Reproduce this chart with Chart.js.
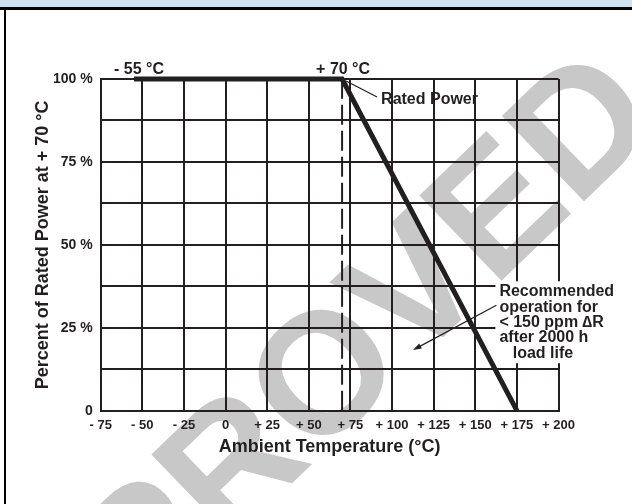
<!DOCTYPE html>
<html>
<head>
<meta charset="utf-8">
<title>Power derating curve</title>
<script src="https://cdn.jsdelivr.net/npm/chart.js@4.4.1/dist/chart.umd.min.js"></script>
<style>
  html, body { margin: 0; padding: 0; background: #fff; overflow: hidden; }
  canvas { display: block; }
</style>
</head>
<body>
<canvas id="derating" width="632" height="504"></canvas>
<script>
// derating curve: percent of rated power vs ambient temperature
var curveTemps = [-55, 70, 175];
var curvePower = [100, 100, 0];

// rated temperature marker (dashed)
var ratedTemps = [70, 70];
var ratedPower = [0, 100];

var xTickValues = [-75, -50, -25, 0, 25, 50, 75, 100, 125, 150, 175, 200];
var xTickLabels = ['- 75', '- 50', '- 25', '0', '+ 25', '+ 50', '+ 75', '+ 100', '+ 125', '+ 150', '+ 175', '+ 200'];
var yTickValues = [0, 25, 50, 75, 100];
var yTickLabels = ['0', '25 %', '50 %', '75 %', '100 %'];

var tempLabels = ['- 55 °C', '+ 70 °C'];
var ratedLabel = 'Rated Power';
var noteLines = ['Recommended', 'operation for', '< 150 ppm \u2206R', 'after 2000 h', '   load life'];
var watermark = 'APPROVED';

var INK = '#231f20';
var FONT = '"Liberation Sans", Arial, Helvetica, sans-serif';

function toPoints(xs, ys) {
  return xs.map(function (x, i) { return { x: x, y: ys[i] }; });
}

function arrowTo(ctx, x0, y0, x1, y1) {
  var ang = Math.atan2(y1 - y0, x1 - x0);
  var len = 9, spread = 0.32;
  ctx.beginPath();
  ctx.moveTo(x0, y0);
  ctx.lineTo(x1 - Math.cos(ang) * 4, y1 - Math.sin(ang) * 4);
  ctx.stroke();
  ctx.beginPath();
  ctx.moveTo(x1, y1);
  ctx.lineTo(x1 - len * Math.cos(ang - spread), y1 - len * Math.sin(ang - spread));
  ctx.lineTo(x1 - len * Math.cos(ang + spread), y1 - len * Math.sin(ang + spread));
  ctx.closePath();
  ctx.fill();
}

var decorPlugin = {
  id: 'decor',
  beforeDraw: function (chart) {
    var ctx = chart.ctx;
    ctx.save();
    ctx.fillStyle = '#fff';
    ctx.fillRect(0, 0, chart.width, chart.height);
    // header band and frame
    ctx.fillStyle = '#cce4f0';
    ctx.fillRect(0, 0, chart.width, 8);
    ctx.fillStyle = '#000';
    ctx.fillRect(0, 7, chart.width, 3);
    ctx.fillRect(4, 7, 2, chart.height - 7);
    // watermark, sits under the grid
    ctx.translate(285, 424);
    ctx.rotate(-44 * Math.PI / 180);
    ctx.fillStyle = '#c8c8c8';
    ctx.font = 'bold 172px ' + FONT;
    ctx.textAlign = 'center';
    ctx.textBaseline = 'middle';
    ctx.fillText(watermark, 0, 0);
    ctx.restore();
  },
  afterDraw: function (chart) {
    var ctx = chart.ctx;
    var xs = chart.scales.x, ys = chart.scales.y, area = chart.chartArea;
    ctx.save();
    ctx.fillStyle = INK;
    ctx.strokeStyle = INK;
    ctx.font = 'bold 16px ' + FONT;

    // temperature limits above the plot
    ctx.textAlign = 'center';
    ctx.textBaseline = 'alphabetic';
    ctx.fillText(tempLabels[0], xs.getPixelForValue(-55) + 5, area.top - 5);
    ctx.fillText(tempLabels[1], xs.getPixelForValue(70) + 1, area.top - 5);

    // rated power callout
    var kx = xs.getPixelForValue(70), ky = ys.getPixelForValue(100);
    ctx.lineWidth = 1.2;
    ctx.beginPath();
    ctx.moveTo(kx + 4, ky + 2);
    ctx.lineTo(kx + 35, ky + 18);
    ctx.stroke();
    ctx.textAlign = 'left';
    ctx.fillText(ratedLabel, kx + 39, ky + 25);

    // recommended operation note
    var nx = xs.getPixelForValue(164.5), ny = ys.getPixelForValue(34.5);
    ctx.fillStyle = '#fff';
    ctx.fillRect(nx - 4, ny - 15, 120, 82);
    ctx.fillStyle = INK;
    for (var i = 0; i < noteLines.length; i++) {
      ctx.fillText(noteLines[i], nx, ny + i * 15.4);
    }
    arrowTo(ctx, nx - 3, ny + 9, xs.getPixelForValue(112.6), ys.getPixelForValue(18.3));
    ctx.restore();
  }
};

var ctx = document.getElementById('derating').getContext('2d');
Chart.defaults.font.family = FONT;
Chart.defaults.color = INK;

var chart = new Chart(ctx, {
  type: 'line',
  data: {
    datasets: [
      {
        data: toPoints(curveTemps, curvePower),
        borderColor: INK,
        borderWidth: 5,
        borderJoinStyle: 'miter',
        pointRadius: 0,
        fill: false,
        tension: 0,
        clip: false
      },
      {
        data: toPoints(ratedTemps, ratedPower),
        borderColor: INK,
        borderWidth: 2,
        borderDash: [20, 6],
        pointRadius: 0,
        fill: false,
        tension: 0
      }
    ]
  },
  options: {
    responsive: false,
    animation: false,
    events: [],
    layout: { padding: { left: 0, top: 79, right: 73.5, bottom: 0 } },
    plugins: { legend: { display: false }, tooltip: { enabled: false } },
    scales: {
      x: {
        type: 'linear',
        min: -75,
        max: 200,
        afterFit: function (s) { s.height = 93.3; },
        afterBuildTicks: function (s) { s.ticks = xTickValues.map(function (v) { return { value: v }; }); },
        grid: { color: INK, lineWidth: 2, drawTicks: false },
        border: { color: INK, width: 2 },
        ticks: {
          autoSkip: false,
          maxRotation: 0,
          padding: 7,
          font: { size: 13, weight: 'bold' },
          callback: function (v) { var i = xTickValues.indexOf(v); return i < 0 ? '' : xTickLabels[i]; }
        },
        title: {
          display: true,
          text: 'Ambient Temperature (°C)',
          font: { size: 18, weight: 'bold' },
          padding: { top: 0, bottom: 46 }
        }
      },
      y: {
        type: 'linear',
        min: 0,
        max: 100,
        afterFit: function (s) { s.width = 100.7; },
        ticks: {
          stepSize: 12.5,
          autoSkip: false,
          padding: 8,
          font: { size: 14, weight: 'bold' },
          callback: function (v) { var i = yTickValues.indexOf(v); return i < 0 ? '' : yTickLabels[i]; }
        },
        grid: { color: INK, lineWidth: 2, drawTicks: false },
        border: { color: INK, width: 2 },
        title: {
          display: true,
          text: 'Percent of Rated Power at + 70 °C',
          font: { size: 18, weight: 'bold' },
          padding: { top: 32, bottom: 0 }
        }
      }
    }
  },
  plugins: [decorPlugin]
});
</script>
</body>
</html>
